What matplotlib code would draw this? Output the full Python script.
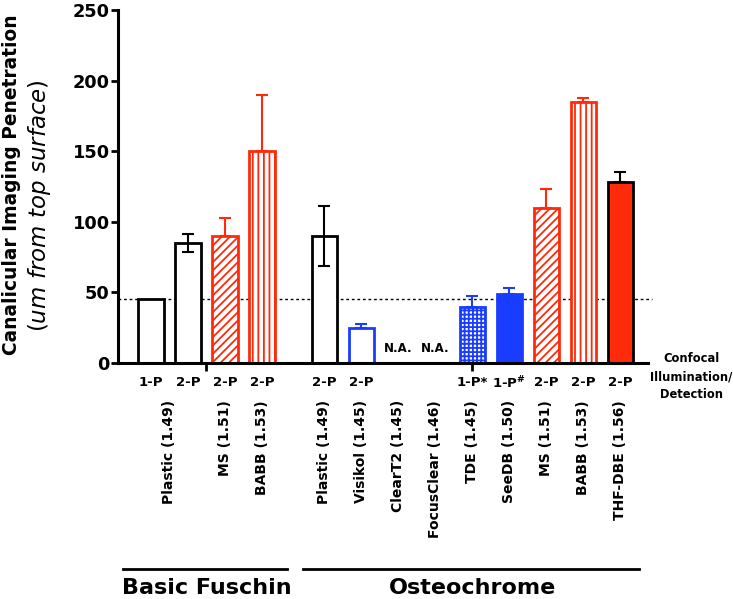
import numpy as np
import matplotlib
matplotlib.use('Agg')
import matplotlib.pyplot as plt
import matplotlib.transforms as mtransforms

plt.rcParams['font.family'] = 'DejaVu Sans'
plt.rcParams['mathtext.fontset'] = 'dejavusans'
plt.rcParams['hatch.linewidth'] = 1.3

RED = '#FF2A0A'
BLUE = '#1A3CFF'

# data
modes = ['1-P', '2-P', '2-P', '2-P', '2-P', '2-P', '', '', '1-P*', r'1-P$^{\mathbf{\#}}$', '2-P', '2-P', '2-P']
media = ['Plastic (1.49)', 'MS (1.51)', 'BABB (1.53)',
         'Plastic (1.49)', 'Visikol (1.45)', 'ClearT2 (1.45)', 'FocusClear (1.46)',
         'TDE (1.45)', 'SeeDB (1.50)', 'MS (1.51)', 'BABB (1.53)', 'THF-DBE (1.56)']
values = [45, 85, 90, 150, 90, 25, np.nan, np.nan, 40, 49, 110, 185, 128]
err_up = [0, 6.5, 13, 40, 21, 2.5, 0, 0, 7.5, 4, 13, 2.5, 7]
err_lo = [0, 6.5, 0, 0, 21, 0, 0, 0, 0, 0, 0, 0, 0]
groups = ['Basic Fuschin', 'Osteochrome']
threshold = 45

# styles
faces = ['white', 'white', 'white', 'white', 'white', 'white', 'none', 'none', 'white', BLUE, 'white', 'white', RED]
edges = ['black', 'black', RED, RED, 'black', BLUE, 'none', 'none', BLUE, BLUE, RED, RED, 'black']
hatches = [None, None, '////', '|||', None, None, None, None, '++++', None, '////', '|||', None]

x = np.r_[np.arange(4), np.arange(9) + 4.68]
xmin, xmax = -0.89, 13.43

fig = plt.figure(figsize=(7.33, 5.99), dpi=100)
W, H = 733, 599
ax = fig.add_axes([118 / W, 1 - 363 / H, 530 / W, 353 / H])

ax.plot([xmin, 13.54], [threshold, threshold], ls=(0, (2, 2)), lw=1, color='black',
        clip_on=False, zorder=0.5)

for i in range(len(x)):
    if np.isnan(values[i]):
        continue
    ax.bar(x[i], values[i], width=0.68, color=faces[i], edgecolor=edges[i],
           hatch=hatches[i], linewidth=2, zorder=2)
    if err_up[i] > 0 or err_lo[i] > 0:
        ax.errorbar(x[i], values[i], yerr=[[err_lo[i]], [err_up[i]]], fmt='none',
                    ecolor=edges[i], elinewidth=1.5, capsize=4.6, capthick=1.5, zorder=3)

for i in (6, 7):
    ax.text(x[i], 10.5, 'N.A.', ha='center', va='center', fontsize=8.5, fontweight='bold')

ax.set_xlim(xmin, xmax)
ax.set_ylim(0, 250)
ax.set_yticks([0, 50, 100, 150, 200, 250])
for s in ('top', 'right'):
    ax.spines[s].set_visible(False)
for s in ('left', 'bottom'):
    ax.spines[s].set_linewidth(2.2)
ax.tick_params(axis='y', width=2, length=5, pad=1, labelsize=12.8)
for lab in ax.get_yticklabels():
    lab.set_fontweight('bold')
ax.set_xticks([1.5, 8.68])
ax.set_xticklabels(['', ''])
ax.tick_params(axis='x', width=2, length=6)

trans = mtransforms.blended_transform_factory(ax.transData, ax.transAxes)
def ay(py):
    return (363 - py) / 353

for xi, m in zip(x, modes):
    ax.text(xi, ay(383), m, transform=trans, ha='center', va='center',
            fontsize=9.5, fontweight='bold')

media_x = np.r_[(x[0] + x[1]) / 2, x[2:]]
for xi, m in zip(media_x, media):
    ax.text(xi, ay(400), m, transform=trans, ha='center', va='top', rotation=90,
            fontsize=10, fontweight='bold')

ax.text(14.6, ay(377), 'Confocal\nIllumination/\nDetection', transform=trans,
        ha='center', va='center', fontsize=8.3, fontweight='bold', linespacing=1.5)

for (a, b), g, gx in zip([(-0.76, 3.68), (4.11, 13.2)], groups, [1.5, 8.68]):
    ax.plot([a, b], [ay(569), ay(569)], color='black', lw=2, transform=trans, clip_on=False)
    ax.text(gx, ay(588), g, transform=trans, ha='center', va='center',
            fontsize=16, fontweight='bold')

fig.text(12 / W, 1 - 185 / H, 'Canalicular Imaging Penetration', rotation=90,
         ha='center', va='center', fontsize=13.4, fontweight='bold')
fig.text(40 / W, 1 - 206 / H, r'($\mathit{um\ from\ top\ surface}$)', rotation=90,
         ha='center', va='center', fontsize=16.5)

fig.savefig('out.png', dpi=100)
